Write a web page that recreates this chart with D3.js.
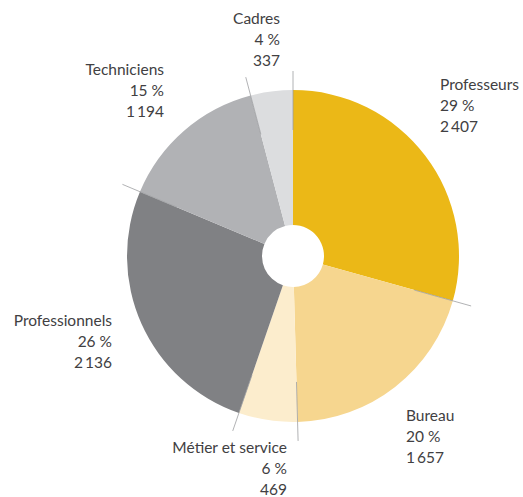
<!DOCTYPE html>
<html>
<head>
<meta charset="utf-8">
<script src="https://cdn.jsdelivr.net/npm/d3@7.9.0/dist/d3.min.js"></script>
<style>
  body { margin: 0; background: #fff; }
  svg text { font-family: Lato, "Open Sans", sans-serif; font-size: 15.5px; fill: #414042; }
</style>
</head>
<body>
<svg id="chart" width="523" height="497"></svg>
<script>
// data
const categories = ['Professeurs', 'Bureau', 'Métier et service', 'Professionnels', 'Techniciens', 'Cadres'];
const counts = [2407, 1657, 469, 2136, 1194, 337];
const colors = ['#ebb817', '#f6d68f', '#fcedcd', '#808184', '#b1b2b5', '#dcdddf'];

// label anchor spots (x, y of first baseline, text-anchor)
const labelPos = [
  [440, 90, 'start'],
  [406, 421, 'start'],
  [287, 453, 'end'],
  [112, 326, 'end'],
  [164, 75, 'end'],
  [280, 24, 'end']
];

const cx = 293, cy = 256, outerR = 166, innerR = 31;
const total = d3.sum(counts);
const fmt = d3.formatLocale({ decimal: ',', thousands: '\u2009', grouping: [3], currency: ['', ' €'] }).format(',d');

const svg = d3.select('#chart');
const g = svg.append('g').attr('transform', `translate(${cx},${cy})`);

const pieGen = d3.pie().sort(null).value(d => d);
const arcGen = d3.arc().innerRadius(innerR).outerRadius(outerR);
const slices = pieGen(counts);

g.selectAll('path')
  .data(slices)
  .join('path')
  .attr('d', arcGen)
  .attr('fill', (d, i) => colors[i]);

// leader lines on slice boundaries
g.selectAll('line')
  .data(slices)
  .join('line')
  .attr('x1', d => Math.sin(d.startAngle) * (outerR - 40))
  .attr('y1', d => -Math.cos(d.startAngle) * (outerR - 40))
  .attr('x2', d => Math.sin(d.startAngle) * (outerR + 19))
  .attr('y2', d => -Math.cos(d.startAngle) * (outerR + 19))
  .attr('stroke', '#9d9ea1')
  .attr('stroke-width', 0.8);

// labels
categories.forEach((c, i) => {
  const [x, y, anchor] = labelPos[i];
  const pct = Math.round(counts[i] / total * 100) + '\u00a0%';
  const t = svg.append('text').attr('text-anchor', anchor);
  [c, pct, fmt(counts[i])].forEach((s, k) => {
    t.append('tspan').attr('x', x).attr('y', y + k * 21).text(s);
  });
});
</script>
</body>
</html>
